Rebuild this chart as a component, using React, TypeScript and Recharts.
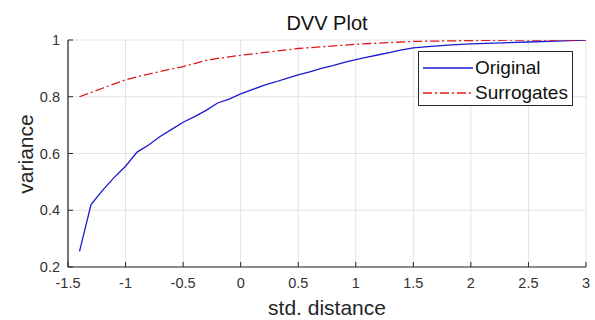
import React from "react";
import { LineChart, Line, XAxis, YAxis, CartesianGrid, Legend } from "recharts";

const xTicks = [-1.5, -1, -0.5, 0, 0.5, 1, 1.5, 2, 2.5, 3];
const yTicks = [0.2, 0.4, 0.6, 0.8, 1];

const originalX = [-1.4, -1.3, -1.2, -1.1, -1.0, -0.9, -0.8, -0.7, -0.6, -0.5, -0.4, -0.3, -0.2, -0.1, 0, 0.1, 0.2, 0.3, 0.4, 0.5, 0.6, 0.7, 0.8, 0.9, 1.0, 1.1, 1.2, 1.3, 1.4, 1.5, 1.6, 1.8, 2.0, 2.2, 2.5, 2.8, 3.0];
const originalY = [0.255, 0.42, 0.47, 0.515, 0.555, 0.605, 0.63, 0.66, 0.685, 0.71, 0.73, 0.752, 0.778, 0.792, 0.81, 0.825, 0.84, 0.852, 0.865, 0.877, 0.888, 0.9, 0.91, 0.921, 0.931, 0.94, 0.948, 0.956, 0.965, 0.972, 0.976, 0.982, 0.986, 0.989, 0.993, 0.997, 1.0];

const surrogateX = [-1.4, -1.2, -1.0, -0.8, -0.6, -0.5, -0.3, -0.2, 0, 0.5, 1.0, 1.5, 2.0, 2.5, 3.0];
const surrogateY = [0.8, 0.83, 0.86, 0.88, 0.898, 0.906, 0.928, 0.935, 0.946, 0.97, 0.985, 0.995, 0.998, 1.0, 1.0];

const originalData = originalX.map((x, i) => ({ x, y: originalY[i] }));
const surrogateData = surrogateX.map((x, i) => ({ x, y: surrogateY[i] }));

const FONT = '"Liberation Sans", Arial, Helvetica, sans-serif';
const AXIS = "#262626";
const BLUE = "#1a1ad0";
const RED = "#e01818";
const DASH = "9 3 2 3";

const dashFor: Record<string, string | undefined> = { Original: undefined, Surrogates: DASH };

function LegendBox(props: any) {
  const payload = props.payload || [];
  return (
    <div
      style={{
        width: 155,
        height: 55,
        boxSizing: "border-box",
        border: `1px solid ${AXIS}`,
        background: "#fff",
        fontFamily: FONT,
        fontSize: 19,
        color: "#111",
        paddingTop: 3,
      }}
    >
      {payload.map((p: any) => (
        <div key={p.value} style={{ display: "flex", alignItems: "center", height: 25 }}>
          <svg width={54} height={10} style={{ marginLeft: 2 }}>
            <line x1={2} y1={5} x2={52} y2={5} stroke={p.color} strokeWidth={1.3} strokeDasharray={dashFor[p.value]} />
          </svg>
          <span>{p.value}</span>
        </div>
      ))}
    </div>
  );
}

export default function App() {
  return (
    <div style={{ position: "absolute", left: 0, top: 0, width: 595, height: 320, background: "#fff" }}>
      <LineChart
        width={595}
        height={320}
        margin={{ top: 40, right: 9, bottom: 23, left: 0 }}
        style={{ fontFamily: FONT }}
      >
        <CartesianGrid stroke="#e3e3e3" strokeWidth={1} xAxisId="b" yAxisId="l" />
        <XAxis
          xAxisId="b"
          dataKey="x"
          type="number"
          domain={[-1.5, 3]}
          ticks={xTicks}
          interval={0}
          allowDataOverflow
          height={30}
          axisLine={{ stroke: AXIS, strokeWidth: 1.2 }}
          tickLine={{ stroke: AXIS }}
          tickSize={-5}
          tickMargin={16}
          tick={{ fill: "#333", fontSize: 14.5, fontFamily: FONT }}
        />
        <XAxis
          xAxisId="t"
          orientation="top"
          dataKey="x"
          type="number"
          domain={[-1.5, 3]}
          ticks={xTicks}
          interval={0}
          allowDataOverflow
          height={0}
          axisLine={{ stroke: AXIS, strokeWidth: 1.2 }}
          tickLine={{ stroke: AXIS }}
          tickSize={-5}
          tickFormatter={() => ""}
        />
        <YAxis
          yAxisId="l"
          type="number"
          domain={[0.2, 1]}
          ticks={yTicks}
          interval={0}
          allowDataOverflow
          width={68}
          axisLine={{ stroke: AXIS, strokeWidth: 1.2 }}
          tickLine={{ stroke: AXIS }}
          tickSize={-5}
          tickMargin={13}
          tick={{ fill: "#333", fontSize: 14.5, fontFamily: FONT }}
        />
        <YAxis
          yAxisId="r"
          orientation="right"
          type="number"
          domain={[0.2, 1]}
          ticks={yTicks}
          interval={0}
          allowDataOverflow
          width={0}
          axisLine={{ stroke: AXIS, strokeWidth: 1.2 }}
          tickLine={{ stroke: AXIS }}
          tickSize={-5}
          tickFormatter={() => ""}
        />
        <Line
          xAxisId="b"
          yAxisId="l"
          data={originalData}
          dataKey="y"
          name="Original"
          stroke={BLUE}
          strokeWidth={1.3}
          dot={false}
          activeDot={false}
          isAnimationActive={false}
        />
        <Line
          xAxisId="b"
          yAxisId="l"
          data={surrogateData}
          dataKey="y"
          name="Surrogates"
          stroke={RED}
          strokeWidth={1.3}
          strokeDasharray={DASH}
          dot={false}
          activeDot={false}
          isAnimationActive={false}
        />
        <Legend
          layout="horizontal"
          verticalAlign="middle"
          align="center"
          content={<LegendBox />}
          wrapperStyle={{ position: "absolute", left: 418, top: 51, width: 155, height: 55, margin: 0, padding: 0 }}
        />
      </LineChart>
      <svg
        width={595}
        height={320}
        style={{ position: "absolute", left: 0, top: 0, pointerEvents: "none" }}
      >
        <text x={327} y={30} textAnchor="middle" fontFamily={FONT} fontSize={20} fill="#111">
          DVV Plot
        </text>
        <text x={327} y={315} textAnchor="middle" fontFamily={FONT} fontSize={21} fill="#262626">
          std. distance
        </text>
        <text
          x={0}
          y={0}
          transform="translate(33,154) rotate(-90)"
          textAnchor="middle"
          fontFamily={FONT}
          fontSize={21}
          fill="#262626"
        >
          variance
        </text>
      </svg>
    </div>
  );
}
